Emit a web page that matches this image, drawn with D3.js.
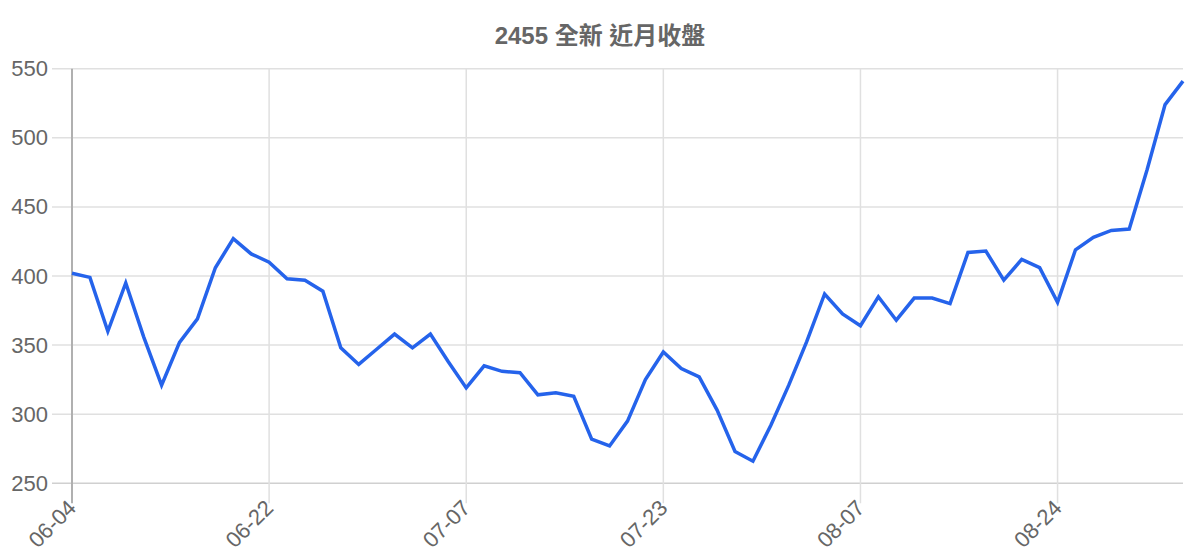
<!DOCTYPE html>
<html>
<head>
<meta charset="utf-8">
<script src="https://cdn.jsdelivr.net/npm/d3@7/dist/d3.min.js"></script>
<style>
  html, body { margin: 0; padding: 0; background: #fff; }
  svg { display: block; }
  text { font-family: "Liberation Sans", Arial, "Noto Sans CJK TC", sans-serif; }
</style>
</head>
<body>
<svg id="chart" width="1200" height="560"></svg>
<script>
// ---- data ----
const chartTitle = "2455 全新 近月收盤";
const closePrices = [
  402, 399, 360, 395, 356, 321, 352, 369, 406, 427, 416,
  410, 398, 397, 389, 348, 336, 347, 358, 348, 358, 338,
  319, 335, 331, 330, 314, 315.5, 313, 282, 277, 295,
  325, 345, 333, 327, 303, 273, 266, 292, 321, 352.5,
  387, 372.5, 364, 385, 368, 384, 384, 380, 417, 418,
  397, 412, 406, 381, 419, 428, 433, 434, 477, 524, 541
];
const tickIndices = [0, 11, 22, 33, 44, 55];
const tickLabels = ["06-04", "06-22", "07-07", "07-23", "08-07", "08-24"];
const yTicks = [250, 300, 350, 400, 450, 500, 550];

// ---- layout ----
const svg = d3.select("#chart");
const plotLeft = 72, plotRight = 1183, plotTop = 68.7, plotBottom = 483.3;
const x = d3.scaleLinear().domain([0, closePrices.length - 1]).range([plotLeft, plotRight]);
const y = d3.scaleLinear().domain([250, 550]).range([plotBottom, plotTop]);

// title
svg.append("text")
  .attr("x", 600).attr("y", 44)
  .attr("text-anchor", "middle")
  .attr("font-size", 24).attr("font-weight", "bold")
  .attr("fill", "#666")
  .style("font-family", "'Liberation Sans', 'Noto Sans CJK TC', sans-serif")
  .text(chartTitle);

// y axis labels
const yAxis = d3.axisLeft(y).tickValues(yTicks).tickSize(0);
const yg = svg.append("g").attr("transform", `translate(${plotLeft},0)`).call(yAxis);
yg.select(".domain").remove();
yg.selectAll(".tick line").remove();
yg.selectAll(".tick text").attr("font-size", 22).attr("fill", "#666")
  .attr("x", -24).style("font-family", "'Liberation Sans', Arial, sans-serif");

// horizontal grid
svg.append("g").selectAll("line").data(yTicks).join("line")
  .attr("x1", 52).attr("x2", plotRight)
  .attr("y1", d => y(d)).attr("y2", d => y(d))
  .attr("stroke", d => d === 250 ? "#d0d0d0" : "#e0e0e0")
  .attr("stroke-width", 1.5);

// x axis labels
const xAxis = d3.axisBottom(x).tickValues(tickIndices)
  .tickFormat((d, i) => tickLabels[i]).tickSize(0);
const xg = svg.append("g").attr("transform", `translate(0,${plotBottom})`).call(xAxis);
xg.select(".domain").remove();
xg.selectAll(".tick line").remove();
xg.selectAll(".tick text")
  .attr("font-size", 22).attr("fill", "#666")
  .style("font-family", "'Liberation Sans', Arial, sans-serif")
  .attr("text-anchor", "end")
  .attr("dy", null).attr("y", 0)
  .attr("transform", "translate(5,26) rotate(-45)");

// vertical grid
svg.append("g").selectAll("line").data(tickIndices).join("line")
  .attr("x1", d => x(d)).attr("x2", d => x(d))
  .attr("y1", plotTop).attr("y2", plotBottom + 20)
  .attr("stroke", (d, i) => i === 0 ? "#b0b0b0" : "#e0e0e0")
  .attr("stroke-width", (d, i) => i === 0 ? 2 : 1.5);

// line
const line = d3.line().x((d, i) => x(i)).y(d => y(d));
svg.append("path")
  .datum(closePrices)
  .attr("d", line)
  .attr("fill", "none")
  .attr("stroke", "#2563eb")
  .attr("stroke-width", 3.5)
  .attr("stroke-linejoin", "miter");
</script>
</body>
</html>
